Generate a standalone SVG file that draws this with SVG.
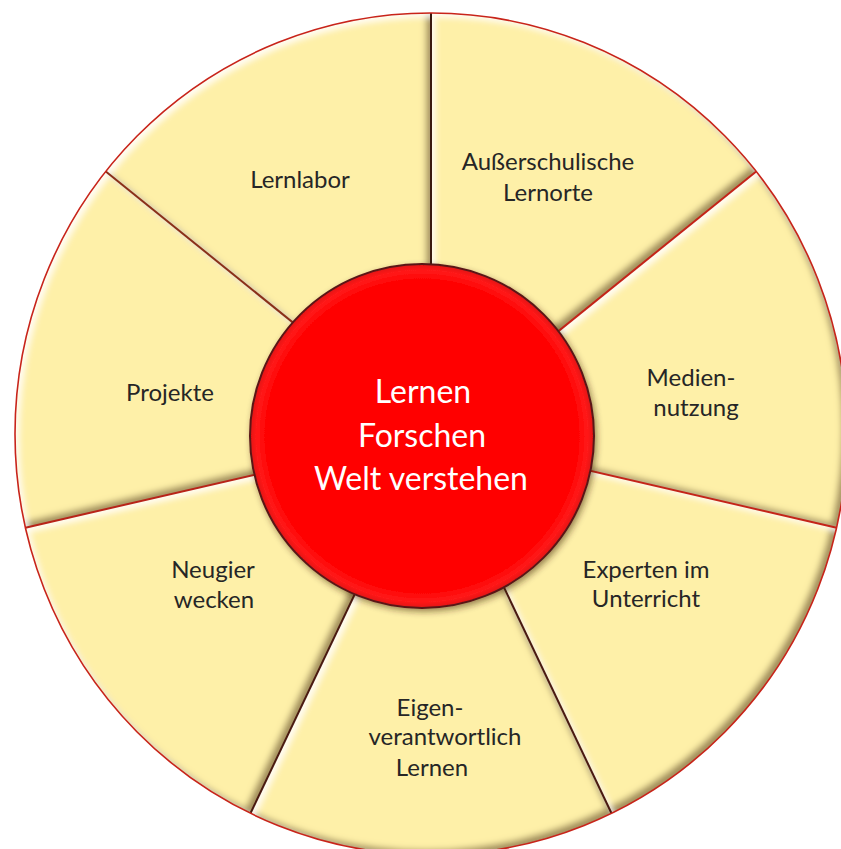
<svg xmlns="http://www.w3.org/2000/svg" width="841" height="849" viewBox="0 0 841 849">
<defs>
<style>
.sec{fill:#FEF0A8;filter:url(#bevel)}
.lbl{font-family:Lato,"Liberation Sans",sans-serif;font-size:24px;fill:#262626;text-anchor:middle}
.ctr{font-family:Lato,"Liberation Sans",sans-serif;font-size:32px;fill:#ffffff;text-anchor:middle}
.div{stroke-width:2;fill:none}
</style>
<filter id="bevel" x="-10%" y="-10%" width="120%" height="120%">
<feGaussianBlur in="SourceAlpha" stdDeviation="3" result="b"/>
<feOffset in="b" dx="4" dy="4" result="o1"/>
<feComposite in="SourceAlpha" in2="o1" operator="out" result="hl"/>
<feFlood flood-color="#ffffff" flood-opacity="0.85"/>
<feComposite in2="hl" operator="in" result="hlc"/>
<feOffset in="b" dx="-5" dy="-5" result="o2"/>
<feComposite in="SourceAlpha" in2="o2" operator="out" result="sh"/>
<feFlood flood-color="#6b4a10" flood-opacity="0.75"/>
<feComposite in2="sh" operator="in" result="shc"/>
<feMerge><feMergeNode in="SourceGraphic"/><feMergeNode in="shc"/><feMergeNode in="hlc"/></feMerge>
</filter>
<filter id="drop" x="-20%" y="-20%" width="140%" height="140%">
<feGaussianBlur in="SourceAlpha" stdDeviation="3" result="b"/>
<feOffset in="b" dx="2" dy="3" result="o"/>
<feFlood flood-color="#3a2000" flood-opacity="0.5"/>
<feComposite in2="o" operator="in" result="s"/>
<feMerge><feMergeNode in="s"/><feMergeNode in="SourceGraphic"/></feMerge>
</filter>
<radialGradient id="redg" cx="50%" cy="50%" r="50%">
<stop offset="0.9" stop-color="#FF0000"/>
<stop offset="0.965" stop-color="#FF1A1A"/>
<stop offset="1" stop-color="#E01010"/>
</radialGradient>
</defs>
<rect width="841" height="849" fill="#ffffff"/>

<g id="sector-ausserschulische">
<path class="sec" d="M431 434 L431 13 A416 421 0 0 1 756.2 171.5 Z"/>
<text class="lbl" x="548" y="170">Außerschulische</text>
<text class="lbl" x="548" y="201">Lernorte</text>
</g>
<g id="sector-mediennutzung">
<path class="sec" d="M431 434 L756.2 171.5 A416 421 0 0 1 836.6 527.7 Z"/>
<text class="lbl" x="691" y="386">Medien-</text>
<text class="lbl" x="696" y="416">nutzung</text>
</g>
<g id="sector-experten">
<path class="sec" d="M431 434 L836.6 527.7 A416 421 0 0 1 611.5 813.3 Z"/>
<text class="lbl" x="646" y="578">Experten im</text>
<text class="lbl" x="646" y="607">Unterricht</text>
</g>
<g id="sector-eigenverantwortlich">
<path class="sec" d="M431 434 L611.5 813.3 A416 421 0 0 1 250.5 813.3 Z"/>
<text class="lbl" x="430" y="716">Eigen-</text>
<text class="lbl" x="445" y="745">verantwortlich</text>
<text class="lbl" x="432" y="776">Lernen</text>
</g>
<g id="sector-neugier">
<path class="sec" d="M431 434 L250.5 813.3 A416 421 0 0 1 25.4 527.7 Z"/>
<text class="lbl" x="213" y="578">Neugier</text>
<text class="lbl" x="214" y="608">wecken</text>
</g>
<g id="sector-projekte">
<path class="sec" d="M431 434 L25.4 527.7 A416 421 0 0 1 105.8 171.5 Z"/>
<text class="lbl" x="170" y="401">Projekte</text>
</g>
<g id="sector-lernlabor">
<path class="sec" d="M431 434 L105.8 171.5 A416 421 0 0 1 431 13 Z"/>
<text class="lbl" x="300" y="188">Lernlabor</text>
</g>

<g id="dividers">
<line class="div" x1="431" y1="434" x2="431" y2="13" stroke="#3a1a10"/>
<line class="div" x1="431" y1="434" x2="756.2" y2="171.5" stroke="#c42418"/>
<line class="div" x1="431" y1="434" x2="836.6" y2="527.7" stroke="#c42418"/>
<line class="div" x1="431" y1="434" x2="611.5" y2="813.3" stroke="#4a1a10"/>
<line class="div" x1="431" y1="434" x2="250.5" y2="813.3" stroke="#4a1a10"/>
<line class="div" x1="431" y1="434" x2="25.4" y2="527.7" stroke="#b82418"/>
<line class="div" x1="431" y1="434" x2="105.8" y2="171.5" stroke="#8a3018"/>
<ellipse cx="431" cy="434" rx="416" ry="421" fill="none" stroke="#c8241a" stroke-width="1.6"/>
</g>

<g id="center">
<circle cx="422" cy="436" r="172" fill="url(#redg)" stroke="#5a1818" stroke-width="2" filter="url(#drop)"/>
<text class="ctr" x="423" y="403">Lernen</text>
<text class="ctr" x="422" y="447">Forschen</text>
<text class="ctr" x="421" y="490">Welt verstehen</text>
</g>
</svg>
